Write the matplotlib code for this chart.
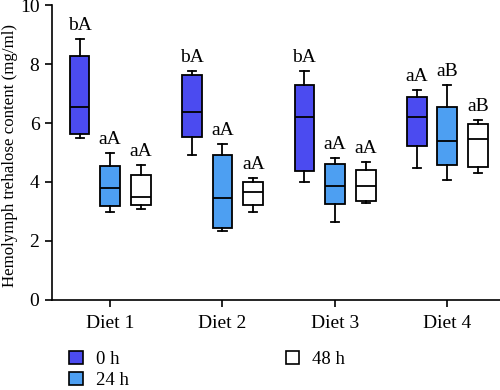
import matplotlib
matplotlib.use("Agg")
import matplotlib.pyplot as plt
from matplotlib.patches import Patch

plt.rcParams['font.family'] = ['Liberation Serif', 'DejaVu Serif']

diets = ['Diet 1', 'Diet 2', 'Diet 3', 'Diet 4']
times = ['0 h', '24 h', '48 h']
colors = ['#4b4bf0', '#4d9ff2', '#ffffff']

# per time point, per diet: [whisker low, q1, median, q3, whisker high]
box_0h = [[5.48, 5.62, 6.53, 8.27, 8.85],
          [4.90, 5.53, 6.36, 7.64, 7.77],
          [4.00, 4.37, 6.19, 7.29, 7.77],
          [4.49, 5.23, 6.19, 6.87, 7.11]]
box_24h = [[2.98, 3.20, 3.81, 4.53, 4.99],
           [2.34, 2.44, 3.46, 4.90, 5.29],
           [2.65, 3.24, 3.86, 4.61, 4.81],
           [4.07, 4.58, 5.38, 6.55, 7.30]]
box_48h = [[3.07, 3.23, 3.48, 4.24, 4.58],
           [2.98, 3.22, 3.66, 3.99, 4.12],
           [3.30, 3.36, 3.85, 4.41, 4.68],
           [4.31, 4.52, 5.47, 5.97, 6.11]]
letters_0h = ['bA', 'bA', 'bA', 'aA']
letters_24h = ['aA', 'aA', 'aA', 'aB']
letters_48h = ['aA', 'aA', 'aA', 'aB']

all_boxes = [box_0h, box_24h, box_48h]
all_letters = [letters_0h, letters_24h, letters_48h]

fig = plt.figure(figsize=(5, 3.9), dpi=100)
ax = fig.add_axes([0.104, 0.231, 0.896, 0.756])

offsets = [-0.27, 0.0, 0.275]
width = 0.175
for k in range(3):
    stats = []
    for d in range(4):
        lo, q1, med, q3, hi = all_boxes[k][d]
        stats.append({'whislo': lo, 'q1': q1, 'med': med, 'q3': q3, 'whishi': hi})
    pos = [d + 1 + offsets[k] for d in range(4)]
    ax.bxp(stats, positions=pos, widths=width, showfliers=False,
           patch_artist=True, manage_ticks=False,
           boxprops=dict(facecolor=colors[k], edgecolor='black', linewidth=1.3),
           medianprops=dict(color='black', linewidth=1.3),
           whiskerprops=dict(color='black', linewidth=1.3),
           capprops=dict(color='black', linewidth=1.3),
           capwidths=width * 0.42)
    for d in range(4):
        ax.text(pos[d], all_boxes[k][d][4] + 0.17, all_letters[k][d],
                ha='center', va='bottom', fontsize=14)

ax.set_xlim(0.484, 4.47)
ax.set_ylim(0, 10)
ax.set_yticks([0, 2, 4, 6, 8, 10])
ax.set_xticks(range(1, 5))
ax.set_xticklabels(diets)
ax.tick_params(axis='both', labelsize=14, width=1.2, length=5, direction='out')
ax.tick_params(axis='x', pad=6)
ax.tick_params(axis='y', pad=4)
ax.set_ylabel('Hemolymph trehalose content (mg/ml)', fontsize=12.2)
ax.yaxis.set_label_coords(-0.076, 0.49)
ax.spines['top'].set_visible(False)
ax.spines['right'].set_visible(False)
ax.spines['left'].set_linewidth(1.2)
ax.spines['bottom'].set_linewidth(1.2)

handles = [Patch(facecolor=colors[k], edgecolor='black', linewidth=1.2, label=times[k])
           for k in range(3)]
fig.legend(handles=handles, loc='upper left', bbox_to_anchor=(0.12, 0.125),
           ncol=2, frameon=False, fontsize=13.5, handlelength=0.7, handleheight=0.7,
           handletextpad=0.7, columnspacing=8.4, labelspacing=0.2, borderpad=0)

fig.savefig('out.png', dpi=100)
